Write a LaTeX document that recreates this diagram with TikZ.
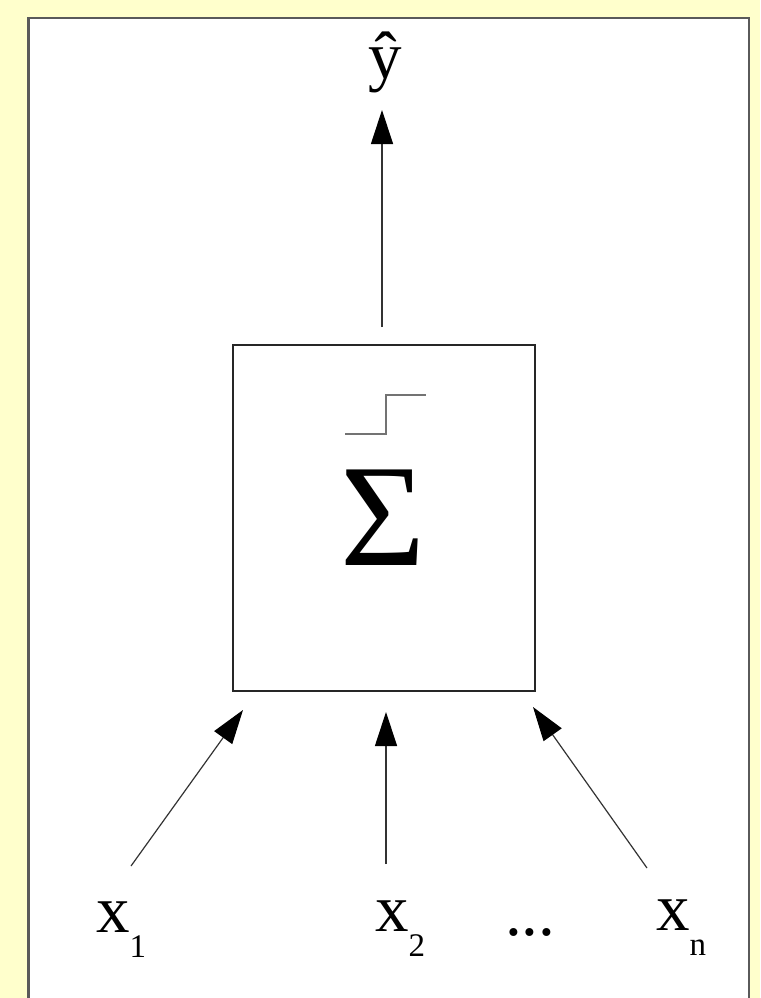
\documentclass[tikz,border=0pt]{standalone}
\usepackage{fontspec}
\setmainfont{Liberation Serif}
\usetikzlibrary{arrows.meta}
\definecolor{bgyellow}{RGB}{255,255,204}
\definecolor{framegray}{RGB}{90,90,90}
\tikzset{
  conn/.style={draw=black!80, line width=1.2pt, -{Triangle[length=34pt,width=22pt,color=black]}},
  lbl/.style={inner sep=0pt, anchor=base west, font=\fontsize{67}{67}\selectfont}
}
\newcommand{\subx}[1]{\raisebox{-25pt}{\fontsize{33}{33}\selectfont #1}}
\begin{document}
\begin{tikzpicture}[x=1pt,y=-1pt]
\useasboundingbox (0,0) rectangle (760,998);
\fill[bgyellow] (0,0) rectangle (760,998);
\draw[framegray, line width=2.5pt, fill=white] (28.5,18) rectangle (749,1020);
% central box
\node[draw=black!85, line width=1.3pt, minimum width=302pt, minimum height=346pt, inner sep=0pt] (box) at (384,518) {};
% step symbol
\draw[black!55, line width=1.5pt] (345,434) -- (386,434) -- (386,395) -- (426,395);
% sigma
\node[inner sep=0pt, anchor=base, font=\fontsize{146}{146}\selectfont] (sigma) at (383,565) {Σ};
% output
\node[inner sep=0pt, anchor=base, font=\fontsize{67}{67}\selectfont] (yhat) at (385,78) {ŷ};
\coordinate (outstart) at (382,327);
\coordinate (outtip) at (382,110);
\draw[conn] (outstart) -- (outtip);
% inputs
\node[lbl] (x1) at (96,932) {x\subx{1}};
\node[lbl] (x2) at (375,931) {x\subx{2}};
\node[lbl] (dots) at (505,935) {...};
\node[lbl] (xn) at (656,930) {x\subx{n}};
\coordinate (s1) at (131,866);
\coordinate (t1) at (243,710);
\coordinate (s2) at (386,864);
\coordinate (t2) at (386,712);
\coordinate (s3) at (647,868);
\coordinate (t3) at (533,707);
\draw[conn] (s1) -- (t1);
\draw[conn] (s2) -- (t2);
\draw[conn] (s3) -- (t3);
\end{tikzpicture}
\end{document}
